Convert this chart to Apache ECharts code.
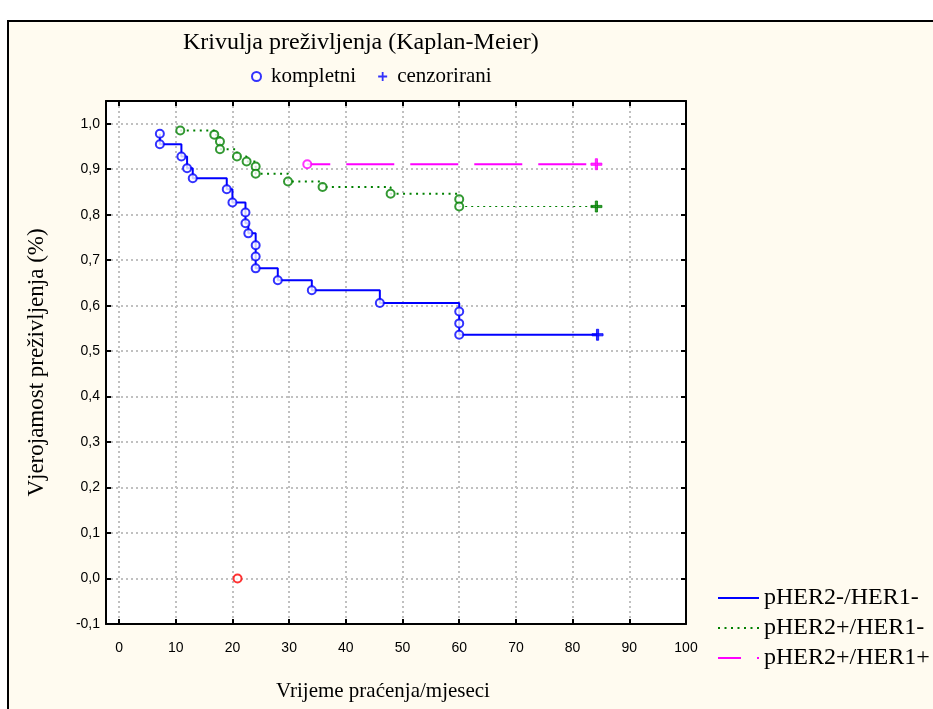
<!DOCTYPE html>
<html>
<head>
<meta charset="utf-8">
<script src="https://cdn.jsdelivr.net/npm/echarts@6/dist/echarts.min.js"></script>
<style>
html,body{margin:0;padding:0;background:#fff;}
#chart{width:933px;height:709px;}
</style>
</head>
<body>
<div id="chart"></div>
<script>
// ---- data ----
const groupNames = ['pHER2-/HER1-', 'pHER2+/HER1-', 'pHER2+/HER1+'];
const groupColors = ['#0000ff', '#008000', '#ff00ff'];
const otherColor = '#ff0000';

// events ("kompletni"): [months, survival]
const blueEvents = [[7.2,0.978],[7.2,0.955],[11,0.928],[12,0.902],[13,0.880],[19,0.856],[20,0.827],
  [22.3,0.805],[22.3,0.781],[22.8,0.759],[24.1,0.733],[24.1,0.708],[24.1,0.682],[28,0.656],
  [34,0.634],[46,0.606],[60,0.587],[60,0.561],[60,0.536]];
const greenEvents = [[10.8,0.985],[16.8,0.976],[17.8,0.961],[17.8,0.944],[20.8,0.928],[22.5,0.917],
  [24.1,0.906],[24.1,0.890],[29.8,0.873],[35.9,0.861],[47.9,0.846],[60,0.834],[60,0.818]];
const magentaEvents = [[33.2,0.911]];
const redEvents = [[20.9,0.0]];

// censored ("cenzorirani")
const blueCensored = [[84.4,0.536]];
const greenCensored = [[84.2,0.818]];
const magentaCensored = [[84.2,0.911]];

const xTicks = [0,10,20,30,40,50,60,70,80,90,100];
const yTicks = [-0.1,0,0.1,0.2,0.3,0.4,0.5,0.6,0.7,0.8,0.9,1.0];
const xMin = -2.3, xMax = 100, yMin = -0.1, yMax = 1.05;

// ---- build ----
const serif = 'Liberation Serif';
const sans = 'Liberation Sans';
const fmtY = v => (Math.round(v*10)/10).toFixed(1).replace('.', ',');

function colored(points, color) {
  return points.map(p => ({ value: p, itemStyle: { color: color, borderColor: color } }));
}
const kompletniData = []
  .concat(colored(blueEvents, groupColors[0]))
  .concat(colored(greenEvents, groupColors[1]))
  .concat(colored(magentaEvents, groupColors[2]))
  .concat(colored(redEvents, otherColor));
const cenzoriraniData = []
  .concat(colored(blueCensored, groupColors[0]))
  .concat(colored(greenCensored, groupColors[1]))
  .concat(colored(magentaCensored, groupColors[2]));

const plusPath = 'path://M0,4H10V6H0Z M4,0H6V10H4Z';
const gridLine = { show: true, lineStyle: { color: '#c0c0c0', width: 2, type: [2, 3] } };
const tick = { show: true, inside: true, length: 5, lineStyle: { color: '#000', width: 2 } };
const frame = { show: true, onZero: false, lineStyle: { color: '#000', width: 2 } };

const chart = echarts.init(document.getElementById('chart'), null, { renderer: 'canvas' });
chart.setOption({
  backgroundColor: '#fffbf0',
  animation: false,
  title: {
    text: 'Krivulja preživljenja (Kaplan-Meier)',
    left: 183, top: 31, padding: 0,
    textStyle: { fontFamily: serif, fontSize: 24, fontWeight: 'normal', color: '#000' }
  },
  graphic: [
    { type: 'rect', shape: { x: 0, y: 0, width: 933, height: 20 }, style: { fill: '#ffffff' }, silent: true },
    { type: 'rect', shape: { x: 0, y: 0, width: 7, height: 709 }, style: { fill: '#ffffff' }, silent: true },
    { type: 'line', shape: { x1: 7, y1: 21, x2: 933, y2: 21 }, style: { stroke: '#000', lineWidth: 2 }, silent: true },
    { type: 'line', shape: { x1: 8, y1: 21, x2: 8, y2: 709 }, style: { stroke: '#000', lineWidth: 2 }, silent: true }
  ],
  legend: [
    {
      data: ['kompletni', 'cenzorirani'],
      left: 246, top: 61, orient: 'horizontal',
      itemWidth: 9, itemHeight: 9, itemGap: 22,
      textStyle: { fontFamily: serif, fontSize: 21, color: '#000', padding: [0, 0, 0, 5] }
    },
    {
      data: groupNames,
      left: 712, top: 581, orient: 'vertical',
      itemWidth: 41, itemHeight: 14, itemGap: 6,
      itemStyle: { opacity: 0 },
      textStyle: { fontFamily: serif, fontSize: 24, color: '#000', lineHeight: 24 }
    }
  ],
  grid: { left: 106, right: 247, top: 101, bottom: 85, show: true, backgroundColor: '#ffffff', borderWidth: 0 },
  xAxis: [
    {
      type: 'value', min: xMin, max: xMax, position: 'bottom',
      axisLine: frame,
      axisTick: Object.assign({}, tick, { customValues: xTicks }),
      axisLabel: { customValues: xTicks, margin: 17, fontFamily: sans, fontSize: 14, color: '#000' },
      splitLine: gridLine,
      name: 'Vrijeme praćenja/mjeseci', nameLocation: 'middle', nameGap: 57,
      nameTextStyle: { fontFamily: serif, fontSize: 21, color: '#000', padding: [0, 26, 0, 0] }
    },
    {
      type: 'value', min: xMin, max: xMax, position: 'top',
      axisLine: frame,
      axisTick: Object.assign({}, tick, { customValues: xTicks }),
      axisLabel: { show: false }, splitLine: { show: false }
    }
  ],
  yAxis: [
    {
      type: 'value', min: yMin, max: yMax, position: 'left',
      axisLine: frame,
      axisTick: Object.assign({}, tick, { customValues: yTicks }),
      axisLabel: { customValues: yTicks, formatter: fmtY, margin: 6, fontFamily: sans, fontSize: 14, color: '#000' },
      splitLine: gridLine,
      name: 'Vjerojamost preživljenja (%)', nameLocation: 'middle', nameGap: 58, nameRotate: 90,
      nameTextStyle: { fontFamily: serif, fontSize: 23, color: '#000' }
    },
    {
      type: 'value', min: yMin, max: yMax, position: 'right',
      axisLine: frame,
      axisTick: Object.assign({}, tick, { customValues: yTicks }),
      axisLabel: { show: false }, splitLine: { show: false }
    }
  ],
  series: [
    {
      name: groupNames[0], type: 'line', step: 'end', symbol: 'none',
      color: groupColors[0],
      lineStyle: { color: groupColors[0], width: 2 },
      data: blueEvents.concat(blueCensored), z: 3
    },
    {
      name: groupNames[1], type: 'line', step: 'end', symbol: 'none',
      color: groupColors[1],
      lineStyle: { color: groupColors[1], width: 2, type: [2, 4.5] },
      data: greenEvents, z: 3
    },
    {
      name: groupNames[1] + ' tail', type: 'line', symbol: 'none',
      lineStyle: { color: groupColors[1], width: 1, type: [2, 4] },
      data: [greenEvents[greenEvents.length - 1], greenCensored[0]], z: 3
    },
    {
      name: groupNames[2], type: 'line', step: 'end', symbol: 'none',
      color: groupColors[2],
      lineStyle: { color: groupColors[2], width: 2, type: [48, 16], dashOffset: 25 },
      data: magentaEvents.concat(magentaCensored), z: 3
    },
    {
      name: 'kompletni', type: 'scatter', symbol: 'emptyCircle', symbolSize: 8,
      itemStyle: { color: '#0000ff', borderColor: '#0000ff', borderWidth: 2 },
      data: kompletniData, z: 5
    },
    {
      name: 'cenzorirani', type: 'scatter', symbol: plusPath, symbolSize: 11,
      itemStyle: { color: '#0000ff' },
      data: cenzoriraniData, z: 5
    }
  ]
});
</script>
</body>
</html>
